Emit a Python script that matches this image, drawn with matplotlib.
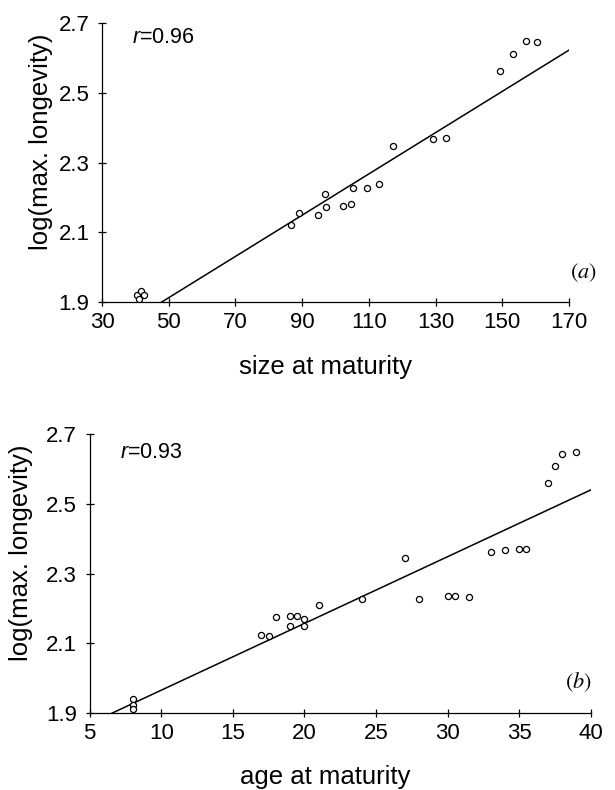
import numpy as np
import matplotlib.pyplot as plt

plt.rcParams['font.family'] = ['Liberation Sans', 'DejaVu Sans']
plt.rcParams['mathtext.fontset'] = 'custom'
plt.rcParams['mathtext.it'] = 'Liberation Sans:italic'
plt.rcParams['mathtext.rm'] = 'Liberation Sans'

# panel (a): size at maturity vs log(max. longevity)
size_mat = [40.6, 41.7, 42.7, 41.1, 86.7, 89.1, 94.6, 96.7, 97.1, 102.3, 104.6,
            105.1, 109.5, 113.0, 117.1, 129.1, 133.2, 149.3, 153.2, 157.2, 160.5]
logmax_a = [1.921, 1.931, 1.921, 1.910, 2.121, 2.155, 2.150, 2.211, 2.171, 2.175, 2.180,
            2.228, 2.228, 2.239, 2.348, 2.368, 2.371, 2.562, 2.612, 2.649, 2.645]

# panel (b): age at maturity vs log(max. longevity)
age_mat = [8.0, 8.0, 8.0, 17.0, 17.5, 18.0, 19.0, 19.5, 19.0, 20.0, 20.0, 21.0, 24.0,
           27.0, 28.0, 30.0, 30.5, 31.5, 33.0, 34.0, 35.0, 35.5, 37.0, 37.5, 38.0, 39.0]
logmax_b = [1.940, 1.924, 1.911, 2.123, 2.120, 2.175, 2.178, 2.178, 2.149, 2.170, 2.151, 2.210, 2.226,
            2.346, 2.226, 2.237, 2.237, 2.233, 2.361, 2.367, 2.371, 2.371, 2.561, 2.609, 2.642, 2.648]

# regression lines (slope, intercept)
fit_a = (0.005915, 1.6167)
fit_b = (0.01912, 1.775)

yticks = [1.9, 2.1, 2.3, 2.5, 2.7]
xticks_a = [30, 50, 70, 90, 110, 130, 150, 170]
xticks_b = [5, 10, 15, 20, 25, 30, 35, 40]

fig = plt.figure(figsize=(6.15, 7.9), dpi=100)
ax_a = fig.add_axes([0.1659, 0.6177, 0.7593, 0.3532])
ax_b = fig.add_axes([0.1459, 0.0971, 0.8146, 0.3535])


def style_panel(ax, x, y, fit, xticks, xlabel, rtext, tag, rpos, tagpos, xlab_pos, ylab_pos):
    ax.plot(x, y, linestyle='none', marker='o', markersize=4.4, markerfacecolor='white',
            markeredgecolor='black', markeredgewidth=0.9, zorder=3)
    xs = np.array([xticks[0], xticks[-1]])
    ax.plot(xs, fit[0] * xs + fit[1], color='black', linewidth=1.1, zorder=2)

    ax.set_xlim(xticks[0], xticks[-1])
    ax.set_ylim(yticks[0], yticks[-1])
    ax.set_xticks(xticks)
    ax.set_yticks(yticks)
    ax.set_yticklabels([f'{v:.1f}' for v in yticks])
    ax.tick_params(direction='inout', length=6, width=0.9, labelsize=16)
    ax.tick_params(axis='x', pad=4)
    ax.tick_params(axis='y', pad=6)
    for s in ['top', 'right']:
        ax.spines[s].set_visible(False)
    for s in ['left', 'bottom']:
        ax.spines[s].set_linewidth(0.9)

    ax.set_xlabel(xlabel, fontsize=18.5, va='top')
    ax.xaxis.set_label_coords(*xlab_pos)
    ax.set_ylabel('log(max. longevity)', fontsize=18.5, va='center')
    ax.yaxis.set_label_coords(*ylab_pos)

    ax.text(rpos[0], rpos[1], rtext, transform=ax.transAxes, fontsize=15.5, va='baseline')
    ax.text(tagpos[0], tagpos[1], tag, transform=ax.transAxes, fontsize=16,
            va='center', math_fontfamily='stix', clip_on=False)


style_panel(ax_a, size_mat, logmax_a, fit_a, xticks_a, 'size at maturity',
            r'$r$=0.96', r'$(a)$', (0.064, 0.927), (1.002, 0.104), (0.478, -0.19), (-0.131, 0.573))
style_panel(ax_b, age_mat, logmax_b, fit_b, xticks_b, 'age at maturity',
            r'$r$=0.93', r'$(b)$', (0.060, 0.913), (0.949, 0.112), (0.47, -0.185), (-0.138, 0.576))

fig.savefig('out.png', dpi=100)
